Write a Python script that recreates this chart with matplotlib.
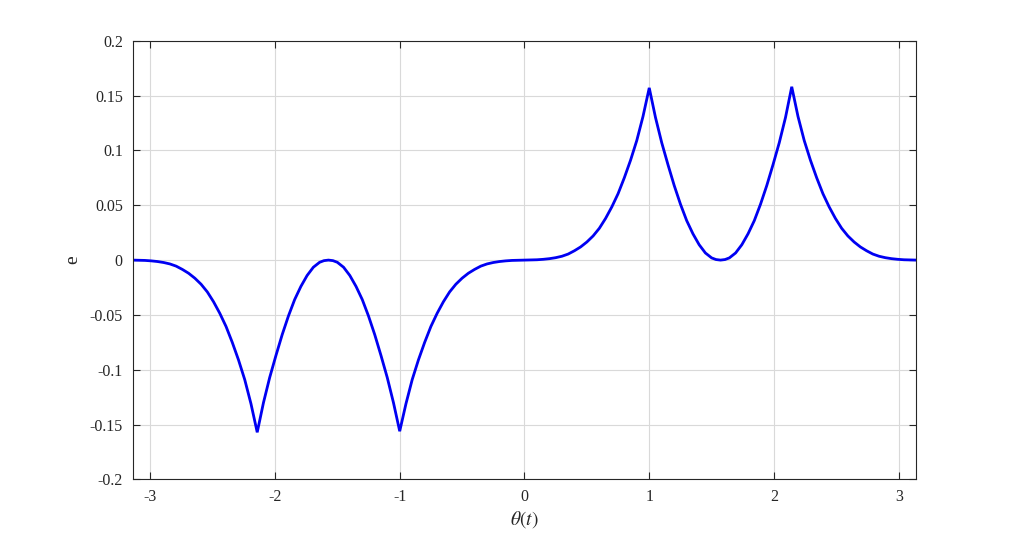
import numpy as np
import matplotlib
matplotlib.use("Agg")
import matplotlib.pyplot as plt

# values
theta_left = [-3.1416, -3.092, -3.042, -2.992, -2.942, -2.892, -2.842, -2.792, -2.742, -2.692,
              -2.642, -2.592, -2.542, -2.492, -2.442, -2.392, -2.342, -2.292, -2.242, -2.192, -2.142,
              -2.092, -2.042, -1.992, -1.942, -1.892, -1.842, -1.792, -1.742, -1.692, -1.642, -1.607, -1.571,
              -1.535, -1.5, -1.45, -1.4, -1.35, -1.3, -1.25, -1.2, -1.15, -1.1, -1.05, -1.0,
              -0.95, -0.9, -0.85, -0.8, -0.75, -0.7, -0.65, -0.6, -0.55, -0.5, -0.45, -0.4, -0.35,
              -0.3, -0.25, -0.2, -0.15, -0.1, -0.05]
e_left = [0.0, -0.0001, -0.0003, -0.0007, -0.0013, -0.0022, -0.0035, -0.0055, -0.0085, -0.012,
          -0.0165, -0.022, -0.029, -0.038, -0.0485, -0.0605, -0.075, -0.091, -0.109, -0.131, -0.157,
          -0.130, -0.107, -0.087, -0.068, -0.051, -0.036, -0.024, -0.014, -0.0065, -0.002, -0.0005, 0.0,
          -0.0005, -0.002, -0.0065, -0.014, -0.024, -0.036, -0.051, -0.068, -0.087, -0.107, -0.130, -0.156,
          -0.131, -0.109, -0.091, -0.075, -0.0605, -0.0485, -0.038, -0.029, -0.022, -0.0165, -0.012,
          -0.0085, -0.0055, -0.0035, -0.0022, -0.0013, -0.0007, -0.0003, -0.0001]
theta_right = [0.0, 0.05, 0.1, 0.15, 0.2, 0.25, 0.3, 0.35, 0.4, 0.45, 0.5, 0.55, 0.6, 0.65, 0.7,
               0.75, 0.8, 0.85, 0.9, 0.95, 1.0,
               1.05, 1.1, 1.15, 1.2, 1.25, 1.3, 1.35, 1.4, 1.45, 1.5, 1.535, 1.571,
               1.607, 1.642, 1.692, 1.742, 1.792, 1.842, 1.892, 1.942, 1.992, 2.042, 2.092, 2.142,
               2.192, 2.242, 2.292, 2.342, 2.392, 2.442, 2.492, 2.542, 2.592, 2.642, 2.692, 2.742,
               2.792, 2.842, 2.892, 2.942, 2.992, 3.042, 3.092, 3.1416]
e_right = [0.0, 0.0001, 0.0003, 0.0007, 0.0013, 0.0022, 0.0035, 0.0055, 0.0085, 0.012, 0.0165,
           0.022, 0.029, 0.038, 0.0485, 0.0605, 0.075, 0.091, 0.109, 0.131, 0.157,
           0.130, 0.107, 0.087, 0.068, 0.051, 0.036, 0.024, 0.014, 0.0065, 0.002, 0.0005, 0.0,
           0.0005, 0.002, 0.0065, 0.014, 0.024, 0.036, 0.051, 0.068, 0.087, 0.107, 0.130, 0.158,
           0.131, 0.109, 0.091, 0.075, 0.0605, 0.0485, 0.038, 0.029, 0.022, 0.0165, 0.012, 0.0085,
           0.0055, 0.0035, 0.0022, 0.0013, 0.0007, 0.0003, 0.0001, 0.0]

xticks = [-3, -2, -1, 0, 1, 2, 3]
yticks = [-0.2, -0.15, -0.1, -0.05, 0, 0.05, 0.1, 0.15, 0.2]
yticklabels = ["-0.2", "-0.15", "-0.1", "-0.05", "0", "0.05", "0.1", "0.15", "0.2"]

plt.rcParams['font.family'] = ['Liberation Serif', 'DejaVu Serif']
plt.rcParams['mathtext.fontset'] = 'stix'

theta = theta_left + theta_right
err = e_left + e_right

fig = plt.figure(figsize=(10.13, 5.39), dpi=100)
ax = fig.add_axes([0.1308, 0.1104, 0.7739, 0.8141])
ax.plot(theta, err, color=(0.0, 0.0, 0.95), linewidth=2.0, solid_joinstyle='miter')
ax.set_xlim(-np.pi, np.pi)
ax.set_ylim(-0.2, 0.2)
ax.set_xticks(xticks)
ax.set_xticklabels([str(t) for t in xticks])
ax.set_yticks(yticks)
ax.set_yticklabels(yticklabels)
ax.grid(True, color='#d9d9d9', linewidth=0.8)
ax.tick_params(direction='in', top=True, right=True, length=5, width=0.8,
               labelsize=11.5, colors='#262626', pad=7)
for s in ax.spines.values():
    s.set_color('#262626')
    s.set_linewidth(0.8)
ax.set_xlabel(r'$\theta(t)$', fontsize=14, color='#262626', labelpad=3)
ax.set_ylabel('e', fontsize=14, color='#262626', labelpad=6)
fig.savefig('out.png', dpi=100)
